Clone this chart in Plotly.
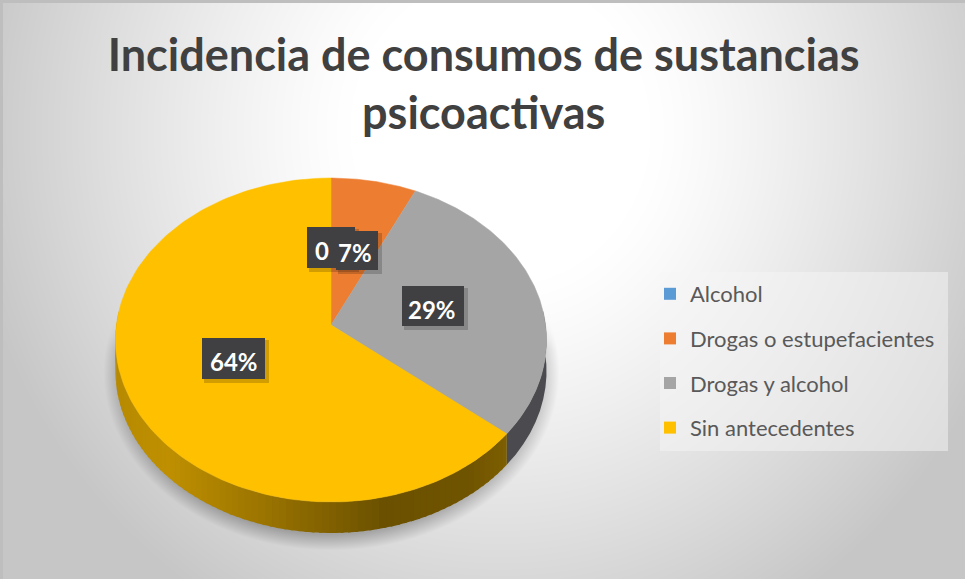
import base64, struct, zlib
import numpy as np
import plotly.graph_objects as go

categories = ["Alcohol", "Drogas o estupefacientes", "Drogas y alcohol", "Sin antecedentes"]
values = [0, 7, 29, 64]
point_labels = ["0", "7%", "29%", "64%"]
colors = ["#5B9BD5", "#ED7D31", "#A5A5A5", "#FFC000"]
side_dark = ["#3B5C7F", "#8E4B1D", "#4A4A4F", "#7A5C00"]
title_lines = ["Incidencia de consumos de sustancias", "psicoactivas"]

W, H = 965, 579
CX, CY, A, B, K, DEPTH = 331.0, 325.0, 214.6, 160.6, 0.0926, 31.0


def project(theta, drop=0.0):
    """theta clockwise from 12 o'clock, on the tilted disc, in page pixels."""
    u, v = np.sin(theta), np.cos(theta)
    d = 1 + K * v
    return CX + A * u / d, CY - B * v / d + drop


def png_uri(rgb):
    h, w, _ = rgb.shape
    raw = b"".join(b"\x00" + rgb[i].tobytes() for i in range(h))
    def chunk(t, d):
        return struct.pack(">I", len(d)) + t + d + struct.pack(">I", zlib.crc32(t + d) & 0xffffffff)
    data = b"\x89PNG\r\n\x1a\n" + chunk(b"IHDR", struct.pack(">IIBBBBB", w, h, 8, 2, 0, 0, 0)) \
        + chunk(b"IDAT", zlib.compress(raw, 9)) + chunk(b"IEND", b"")
    return "data:image/png;base64," + base64.b64encode(data).decode()


# chart-area backdrop: soft radial grey gradient + the pie's soft floor shadow
yy, xx = np.mgrid[0:H, 0:W].astype(float)
r = np.sqrt(((xx - 500) / 500) ** 2 + ((yy - 130) / 520) ** 2)
bg = 255 - 50 * (np.clip(r - 0.3, 0, 0.78) / 0.7) ** 1.2
sx = (xx - 331) / 228
sy = (yy - 372) / 178
sh = np.clip(1.0 - np.sqrt(sx ** 2 + sy ** 2), 0, 0.09) / 0.09
sh = sh * np.clip((yy - 318) / 30, 0, 1)
bg = bg - 55 * sh
rgb = np.repeat(bg[:, :, None], 3, axis=2)
rgb[:3, :] = 190
rgb[:, :3] = 190
rgb = np.clip(rgb, 0, 255).astype(np.uint8)

fig = go.Figure()

# extruded rim (only the front half shows); the large slice is shaded along x
cum = np.cumsum([0] + values) / sum(values) * 2 * np.pi
for i in range(len(values)):
    if values[i] == 0:
        continue
    t0 = max(cum[i], np.pi / 2 - 0.09)
    t1 = min(cum[i + 1], 3 * np.pi / 2 + 0.09)
    if t1 <= t0:
        continue
    steps = max(2, int((t1 - t0) / 0.03)) if i == 3 else 2
    edges = np.linspace(t0, t1, steps)
    for a, b in zip(edges[:-1], edges[1:]):
        th = np.linspace(a, min(b + 0.012, t1), 12 if i != 3 else 3)
        xt, yt = project(th)
        xb, yb = project(th[::-1], DEPTH)
        xm = (xt.mean() - (CX - A)) / (2 * A)
        if i == 3:
            s = np.interp(xm, [0, 0.12, 0.35, 0.62, 0.82, 1], [0.72, 0.75, 0.6, 0.42, 0.44, 0.55])
            c = "rgb(%d,%d,0)" % (255 * s, 192 * s)
        else:
            c = side_dark[i]
        fig.add_trace(go.Scatter(x=np.r_[xt, xb], y=np.r_[yt, yb], mode="lines", fill="toself",
                                 fillcolor=c, line=dict(width=0), showlegend=False, hoverinfo="skip"))

# top face
for i, name in enumerate(categories):
    if values[i] == 0:
        continue
    th = np.linspace(cum[i], cum[i + 1], 160)
    xt, yt = project(th)
    fig.add_trace(go.Scatter(x=np.r_[CX, xt, CX], y=np.r_[CY, yt, CY], mode="lines", fill="toself",
                             fillcolor=colors[i], line=dict(width=0.5, color=colors[i]),
                             name=name, showlegend=False, hoverinfo="name"))

# legend entries
for name, c in zip(categories, colors):
    fig.add_trace(go.Scatter(x=[None], y=[None], mode="markers", name=name, legendgroup=name,
                             marker=dict(symbol="square", size=12, color=c)))

# data labels
boxes = [(307, 227, 355, 268, 322, 250),
         (336, 231, 378, 270, 355, 252),
         (402, 286, 464, 326, 432, 309),
         (202, 338, 265, 379, 234, 361)]
shapes = []
for x0, y0, x1, y1, tx, ty in boxes:
    shapes.append(dict(type="rect", xref="x", yref="y", x0=x0 + 2, x1=x1 + 4, y0=y0 + 2, y1=y1 + 4,
                       fillcolor="rgba(0,0,0,0.18)", line_width=0, layer="above"))
for x0, y0, x1, y1, tx, ty in boxes:
    shapes.append(dict(type="rect", xref="x", yref="y", x0=x0, x1=x1, y0=y0, y1=y1,
                       fillcolor="#404043", line_width=0, layer="above"))
# legend panel
shapes.append(dict(type="rect", xref="x", yref="y", x0=660, x1=948, y0=272, y1=451,
                   fillcolor="rgba(245,245,245,0.5)", line_width=0, layer="above"))

annotations = [dict(x=b[4], y=b[5], xref="x", yref="y", text=t, showarrow=False,
                    font=dict(family="Lato", size=24, color="white", weight=700))
               for b, t in zip(boxes, point_labels)]

fig.update_layout(
    width=W, height=H, margin=dict(l=0, r=0, t=0, b=0),
    paper_bgcolor="white", plot_bgcolor="rgba(0,0,0,0)",
    xaxis=dict(range=[0, W], visible=False, fixedrange=True),
    yaxis=dict(range=[H, 0], visible=False, fixedrange=True),
    title=dict(text="<br>".join(title_lines), x=0.5012, xanchor="center", y=0.878, yanchor="top",
               font=dict(family="Lato", size=45, color="#404040", weight=700)),
    legend=dict(x=650 / W, y=1 - 273 / H, xanchor="left", yanchor="top", bgcolor="rgba(0,0,0,0)",
                tracegroupgap=13, itemwidth=30, font=dict(family="Lato", size=22, color="#595959")),
    shapes=shapes, annotations=annotations,
    images=[dict(source=png_uri(rgb), xref="x", yref="y", x=0, y=0, sizex=W, sizey=H,
                 sizing="stretch", xanchor="left", yanchor="top", layer="below")],
)
fig.write_html("out.html", post_script="document.body.style.margin='0';",
               config={"displayModeBar": False})
